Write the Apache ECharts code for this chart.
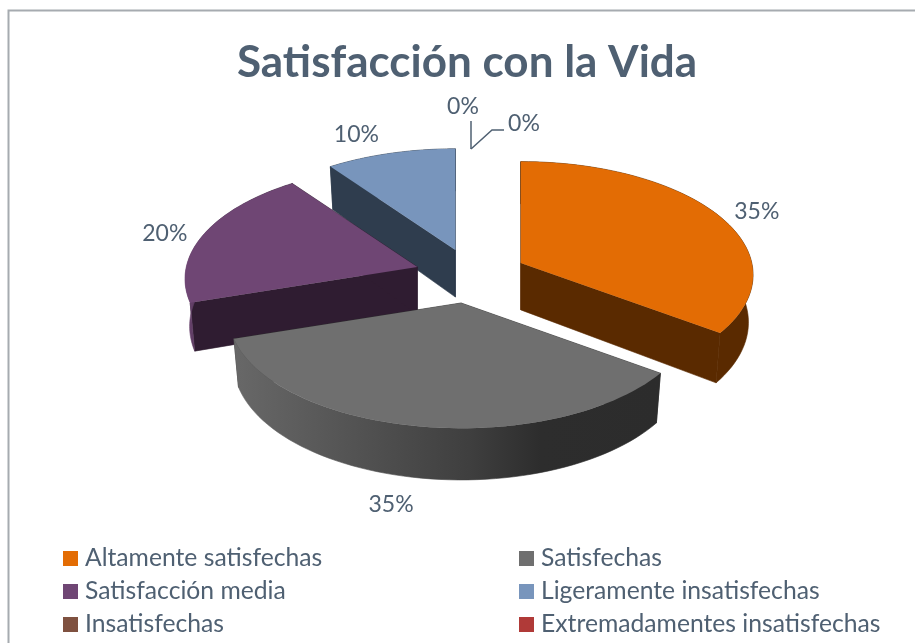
<!DOCTYPE html>
<html><head><meta charset="utf-8">
<style>html,body{margin:0;padding:0;background:#fff}#c{width:915px;height:643px}</style>
<script src="https://cdn.jsdelivr.net/npm/echarts@6/dist/echarts.min.js"></script>
</head><body><div id="c"></div>
<script>
const categories = ['Altamente satisfechas','Satisfechas','Satisfacción media','Ligeramente insatisfechas','Insatisfechas','Extremadamentes insatisfechas'];
const values = [35,35,20,10,0,0];
const topColors = ['#E36C04','#6F6F6F','#6F4674','#7895BC','#7F5140','#B03A38'];
const radialColors = ['#5A2A00','#2E2E2E','#2F1C31','#2F3D4E','#33201A','#471717'];
const wallStops = [
  [[0,'#5A2A00'],[1,'#5A2A00']],
  [[0,'#686868'],[0.55,'#3F3F3F'],[0.72,'#2D2D2D'],[1,'#2C2C2C']],
  [[0,'#6F4674'],[0.1,'#5A3A5F'],[1,'#2F1C31']],
  [[0,'#2F3D4E'],[1,'#2F3D4E']],
  [[0,'#33201A'],[1,'#33201A']],
  [[0,'#471717'],[1,'#471717']]
];
const textColor = '#4F6072';
const fontFamily = 'Lato, Carlito, "Open Sans", sans-serif';

// pie projection
const CX=470, CY=275.5, RX=231, RY=112, PERSP=0.106, EXPLODE_X=57, EXPLODE_Y=27.8, DEPTH=47, BOTTOM_SCALE=0.98;
const total = values.reduce((a,b)=>a+b,0);
const startPct = []; values.reduce((acc,v,i)=>{startPct[i]=acc;return acc+v;},0);

function project(center, theta, r){
  const c = -Math.cos(theta)*r, s = Math.sin(theta)*r;
  const p = 1/(1-PERSP*c);
  return [center[0]+RX*s*p, center[1]+RY*c*p];
}
function down(center, pt, theta){
  const c = theta===null ? 0 : -Math.cos(theta);
  return [center[0]+(pt[0]-center[0])*BOTTOM_SCALE, pt[1]+DEPTH*(1+0.1*c)];
}
const sliceNudge = [[0,0],[0,0],[1.5,0],[3,1],[0,0],[0,0]];
function sliceCenter(mid, idx){
  return [CX+EXPLODE_X*Math.sin(mid)+sliceNudge[idx][0], CY-EXPLODE_Y*Math.cos(mid)+sliceNudge[idx][1]];
}
// label placement: offsets from the slice's own centre
const labelOffsets = [[236,-51],[-70,202],[-252.5,-33],[-99,-115],[-7,-169],[54,-152]];

function renderSlice(idx){
  return function(params, api){
    const v = values[idx];
    const a0 = startPct[idx]/total*2*Math.PI, a1 = (startPct[idx]+v)/total*2*Math.PI;
    const mid = (a0+a1)/2;
    const ctr = v>0 ? sliceCenter(mid,idx) : [CX,CY];
    const children = [];
    const pct = Math.round(v/total*100)+'%';
    if(v>0){
      const N = 60, rim=[], rimDown=[];
      for(let k=0;k<=N;k++){
        const t=a0+(a1-a0)*k/N, pt=project(ctr,t,1);
        rim.push(pt); rimDown.push(down(ctr,pt,t));
      }
      const ctrDown = down(ctr,ctr,null);
      const rc = radialColors[idx];
      children.push({type:'polygon',shape:{points:[ctr,rim[0],rimDown[0],ctrDown]},style:{fill:rc,stroke:rc,lineWidth:0.6}});
      children.push({type:'polygon',shape:{points:[ctr,rim[N],rimDown[N],ctrDown]},style:{fill:rc,stroke:rc,lineWidth:0.6}});
      const grad = new echarts.graphic.LinearGradient(0,0,1,0,wallStops[idx].map(s=>({offset:s[0],color:s[1]})));
      children.push({type:'polygon',shape:{points:rim.concat(rimDown.slice().reverse())},
        style:{fill:grad,stroke:grad,lineWidth:0.6}});
      children.push({type:'polygon',shape:{points:[ctr].concat(rim)},style:{fill:topColors[idx]}});
    }
    const off = labelOffsets[idx];
    children.push({type:'text',z2:50,style:{x:ctr[0]+off[0],y:ctr[1]+off[1],text:pct,fill:textColor,
      font:'23px '+fontFamily,align:'center',verticalAlign:'middle'}});
    if(idx===4){
      children.push({type:'polyline',z2:50,shape:{points:[[471,121],[471,149]]},style:{fill:'none',stroke:textColor,lineWidth:1.5}});
    }
    if(idx===5){
      children.push({type:'polyline',z2:50,shape:{points:[[471,149],[492,130],[504,130]]},style:{fill:'none',stroke:textColor,lineWidth:1.5}});
    }
    return {type:'group',children};
  };
}

const drawOrder = [3,2,0,1,4,5];
const seriesList = drawOrder.map((idx,o)=>({
  type:'custom',name:categories[idx],coordinateSystem:'none',
  data:[values[idx]],renderItem:renderSlice(idx),
  itemStyle:{color:topColors[idx]},z:2+o,silent:true,animation:false
}));
const legendBase = {orient:'vertical',padding:0,itemWidth:15,itemHeight:15,itemGap:8,icon:'rect',selectedMode:false,height:100,
  textStyle:{color:textColor,fontSize:24.7,lineHeight:24,fontFamily:fontFamily,padding:[0,0,0,2]}};
const chart = echarts.init(document.getElementById('c'),null,{renderer:'canvas'});
chart.setOption({
  animation:false,
  backgroundColor:'#fff',
  title:{text:'Satisfacción con la Vida',left:232,top:36,
    textStyle:{color:textColor,fontSize:44,fontWeight:'bold',fontFamily:fontFamily}},
  graphic:[{type:'polyline',z:0,shape:{points:[[8.5,643],[8.5,10.5],[915,10.5]]},style:{fill:'none',stroke:'#A6ABB0',lineWidth:2}}],
  legend:[
    Object.assign({},legendBase,{left:63,top:546,data:[categories[0],categories[2],categories[4]]}),
    Object.assign({},legendBase,{left:519,top:546,data:[categories[1],categories[3],categories[5]]})
  ],
  series:seriesList
});
</script></body></html>
